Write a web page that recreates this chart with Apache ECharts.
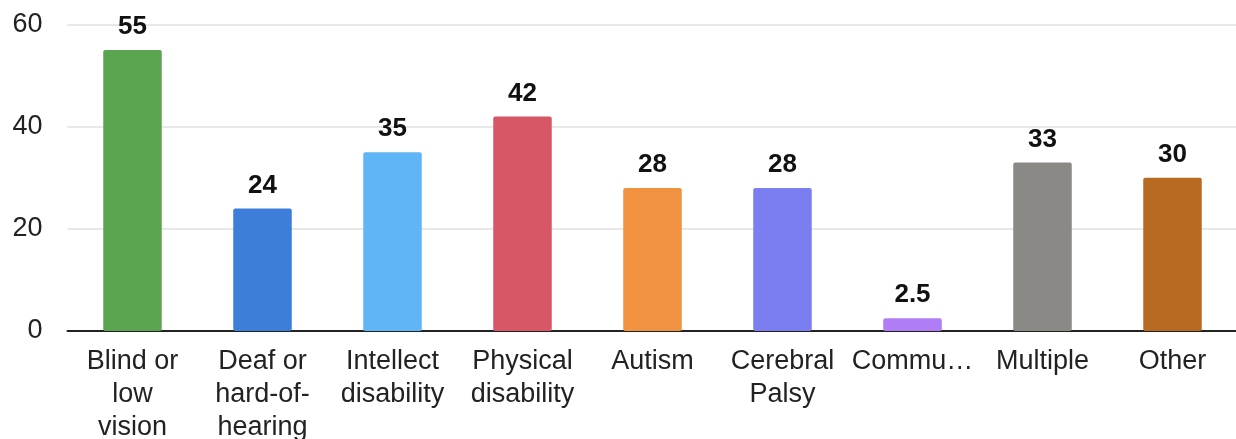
<!DOCTYPE html>
<html>
<head>
<meta charset="utf-8">
<script src="https://cdn.jsdelivr.net/npm/echarts@6/dist/echarts.min.js"></script>
<style>
  html, body { margin: 0; padding: 0; background: #fff; }
  #chart { width: 1236px; height: 439px; }
</style>
</head>
<body>
<div id="chart"></div>
<script>
// Disability categories (line breaks as shown under each bar)
const categories = [
  'Blind or\nlow\nvision',
  'Deaf or\nhard-of-\nhearing',
  'Intellect\ndisability',
  'Physical\ndisability',
  'Autism',
  'Cerebral\nPalsy',
  'Communication',
  'Multiple',
  'Other'
];
const values = [55, 24, 35, 42, 28, 28, 2.5, 33, 30];
const barColors = ['#5ba550', '#3d7edb', '#60b5f6', '#d85766', '#f0923f', '#7b7ef0', '#b07df6', '#8a8985', '#b86a22'];
const yTicks = [0, 20, 40, 60];

const chart = echarts.init(document.getElementById('chart'), null, { renderer: 'canvas' });

const FONT = 'Liberation Sans, Arial, sans-serif';

chart.setOption({
  animation: false,
  backgroundColor: '#ffffff',
  grid: {
    left: 67.5,
    top: 24.5,
    width: 1170,
    bottom: 108,
    containLabel: false,
    outerBoundsMode: 'none'
  },
  xAxis: {
    type: 'category',
    data: categories,
    axisTick: { show: false },
    axisLine: { show: true, lineStyle: { color: '#222', width: 2 } },
    axisLabel: {
      interval: 0,
      margin: 14,
      color: '#222',
      fontFamily: FONT,
      fontSize: 27,
      lineHeight: 33,
      width: 128,
      overflow: 'truncate',
      ellipsis: '…'
    }
  },
  yAxis: {
    type: 'value',
    min: yTicks[0],
    max: yTicks[yTicks.length - 1],
    interval: yTicks[1] - yTicks[0],
    axisLine: { show: false },
    axisTick: { show: false },
    splitLine: { lineStyle: { color: '#e0e0e0', width: 1.5 } },
    axisLabel: {
      margin: 25,
      color: '#222',
      fontFamily: FONT,
      fontSize: 27
    }
  },
  series: [{
    type: 'bar',
    data: values.map((v, i) => ({ value: v, itemStyle: { color: barColors[i] } })),
    barWidth: '45%',
    itemStyle: { borderRadius: 2 },
    label: {
      show: true,
      position: 'top',
      distance: 10,
      color: '#111',
      fontWeight: 'bold',
      fontFamily: FONT,
      fontSize: 26
    }
  }]
});
</script>
</body>
</html>
